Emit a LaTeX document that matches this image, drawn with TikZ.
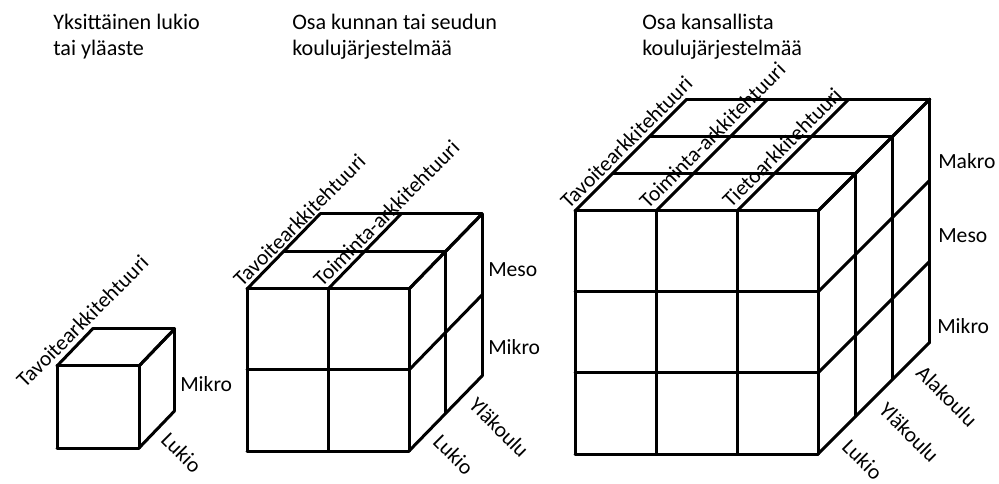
\documentclass[tikz,border=0pt]{standalone}
\usepackage{fontspec}
\setmainfont{Carlito}
\tikzset{
  cubeline/.style={line width=2.25pt, line cap=round, line join=round},
  labelfont/.style={font=\fontsize{16.2}{19}\selectfont},
  toplabel/.style={labelfont, rotate=45, anchor=base west, inner sep=0pt},
  sidelabel/.style={labelfont, anchor=base west, inner sep=0pt},
  footlabel/.style={labelfont, rotate=-45, anchor=west, inner sep=0pt},
  heading/.style={font=\fontsize{16.6}{19.6}\selectfont, anchor=north west, align=left, inner sep=0pt}
}
% Oblique grid cube:
% #1,#2 front top-left corner, #3 cell size, #4,#5 depth step,
% #6 columns, #7 rows, #8 depth layers
\newcommand\gridcube[8]{%
  \foreach \i in {0,...,#6}
    \draw[cubeline] ({#1+\i*#3},#2) -- ({#1+\i*#3},{#2+#7*#3});
  \foreach \j in {0,...,#7}
    \draw[cubeline] (#1,{#2+\j*#3}) -- ({#1+#6*#3},{#2+\j*#3});
  \foreach \i in {0,...,#6}
    \draw[cubeline] ({#1+\i*#3},#2) -- ++({#8*#4},{#8*#5});
  \foreach \k in {1,...,#8}
    \draw[cubeline] ({#1+\k*#4},{#2+\k*#5}) -- ++({#6*#3},0);
  \foreach \k in {1,...,#8}
    \draw[cubeline] ({#1+#6*#3+\k*#4},{#2+\k*#5}) -- ++(0,{#7*#3});
  \foreach \j in {0,...,#7}
    \draw[cubeline] ({#1+#6*#3},{#2+\j*#3}) -- ++({#8*#4},{#8*#5});
}
\begin{document}
\begin{tikzpicture}[x=0.75pt,y=-0.75pt]
\useasboundingbox (0,0) rectangle (999,484);

% headings
\node[heading] (h1) at (53,14) {Yksittäinen lukio\\tai yläaste};
\node[heading] (h2) at (292,14) {Osa kunnan tai seudun\\koulujärjestelmää};
\node[heading] (h3) at (642,14) {Osa kansallista\\koulujärjestelmää};

% single school
\gridcube{57}{366}{82}{35.5}{-37}{1}{1}{1}
\node[toplabel] (s1) at (25,389) {Tavoitearkkitehtuuri};
\node[sidelabel] (s2) at (180,392) {Mikro};
\node[footlabel] (s3) at (165,436) {Lukio};

% municipal / regional system
\gridcube{247}{289}{81}{36.5}{-37.5}{2}{2}{2}
\node[toplabel] (m1) at (242,288) {Tavoitearkkitehtuuri};
\node[toplabel] (m2) at (322,288) {Toiminta-arkkitehtuuri};
\node[sidelabel] (m3) at (488,277) {Meso};
\node[sidelabel] (m4) at (488,355) {Mikro};
\node[footlabel] (m5) at (437,438) {Lukio};
\node[footlabel] (m6) at (473,401) {Yläkoulu};

% national system
\gridcube{575}{211}{81}{37.3}{-37.3}{3}{3}{3}
\node[toplabel] (n1) at (569,210) {Tavoitearkkitehtuuri};
\node[toplabel] (n2) at (648,210) {Toiminta-arkkitehtuuri};
\node[toplabel] (n3) at (731,209) {Tietoarkkitehtuuri};
\node[sidelabel] (n4) at (938,169) {Makro};
\node[sidelabel] (n5) at (938,243) {Meso};
\node[sidelabel] (n6) at (937,334) {Mikro};
\node[footlabel] (n7) at (846,443) {Lukio};
\node[footlabel] (n8) at (883,406) {Yläkoulu};
\node[footlabel] (n9) at (920,369) {Alakoulu};
\end{tikzpicture}
\end{document}
